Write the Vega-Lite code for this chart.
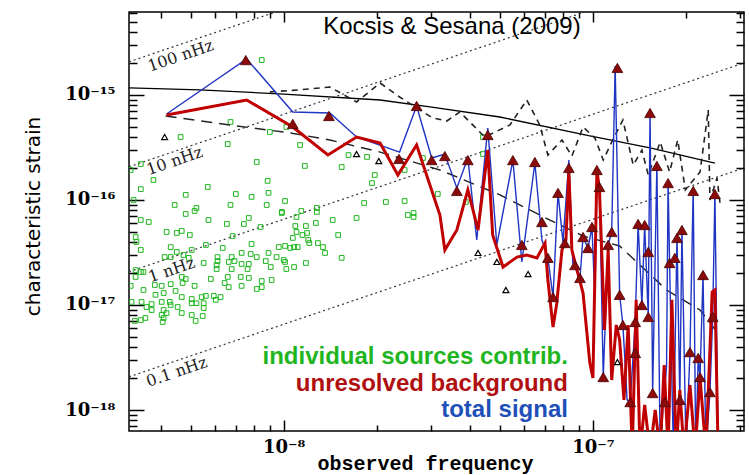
{
 "$schema": "https://vega.github.io/schema/vega-lite/v6.json",
 "width": 615, "height": 419,
 "autosize": {"type": "none"},
 "padding": {"left": 129, "top": 12, "right": 5, "bottom": 44},
 "background": "white",
 "config": {
  "view": {"stroke": "black", "strokeWidth": 1.5},
  "axis": {"domain": false, "grid": false, "tickColor": "black", "tickWidth": 1.5, "labelFont": "DejaVu Serif", "labelFontWeight": "bold", "labelFontSize": 18, "labelColor": "black", "labelOverlap": false, "labelFlush": false, "titleColor": "black"}
 },
 "datasets": {
  "nhz": [
   {"lab": "100", "f": 3.16e-9, "h": 2.07e-15}, {"lab": "100", "f": 3.08e-7, "h": 2.02e-13},
   {"lab": "10", "f": 3.16e-9, "h": 2.07e-16}, {"lab": "10", "f": 3.08e-7, "h": 2.02e-14},
   {"lab": "1", "f": 3.16e-9, "h": 2.07e-17}, {"lab": "1", "f": 3.08e-7, "h": 2.02e-15},
   {"lab": "0.1", "f": 3.16e-9, "h": 2.07e-18}, {"lab": "0.1", "f": 3.08e-7, "h": 2.02e-16}
  ],
  "nhzlab": [
   {"t": "100 nHz", "f": 4.64e-9, "h": 2.35e-15},
   {"t": "10 nHz", "f": 4.44e-9, "h": 2.35e-16},
   {"t": "1 nHz", "f": 4.34e-9, "h": 2.15e-17},
   {"t": "0.1 nHz", "f": 4.51e-9, "h": 2.30e-18}
  ],
  "green": [
   {"f":8.49e-9,"h":2.15e-15},{"f":6.73e-9,"h":5.53e-16},{"f":4.64e-9,"h":3.98e-16},{"f":6.59e-9,"h":3.41e-16},{"f":9.02e-9,"h":4.44e-16},{"f":1.02e-8,"h":4.96e-16},{"f":8.18e-9,"h":2.30e-16},{"f":3.45e-9,"h":2.20e-16},{"f":3.79e-9,"h":1.55e-16},{"f":8.87e-9,"h":1.52e-16},{"f":5.68e-9,"h":1.33e-16},{"f":3.45e-9,"h":1.27e-16},{"f":3.20e-9,"h":1.93e-16},{"f":4.82e-9,"h":1.12e-16},{"f":7.00e-9,"h":1.14e-16},{"f":7.87e-9,"h":1.07e-16},{"f":8.93e-9,"h":1.17e-16},{"f":1.01e-8,"h":9.78e-17},{"f":3.27e-9,"h":1.00e-16},{"f":4.44e-9,"h":8.96e-17},{"f":6.73e-9,"h":8.96e-17},{"f":8.81e-9,"h":8.96e-17},{"f":5.22e-9,"h":8.39e-17},{"f":5.15e-9,"h":7.86e-17},{"f":4.82e-9,"h":7.36e-17},{"f":9.86e-9,"h":7.69e-17},{"f":7.71e-9,"h":6.74e-17},{"f":3.45e-9,"h":6.45e-17},{"f":3.66e-9,"h":6.17e-17},{"f":5.71e-9,"h":6.45e-17},{"f":6.55e-9,"h":5.91e-17},{"f":7.43e-9,"h":5.91e-17},{"f":8.42e-9,"h":5.53e-17},{"f":4.18e-9,"h":4.96e-17},{"f":4.51e-9,"h":4.85e-17},{"f":4.68e-9,"h":5.07e-17},{"f":4.97e-9,"h":4.64e-17},{"f":6.84e-9,"h":4.54e-17},{"f":3.32e-9,"h":4.44e-17},{"f":3.34e-9,"h":3.98e-17},{"f":4.31e-9,"h":3.56e-17},{"f":5.60e-9,"h":3.73e-17},{"f":7.87e-9,"h":3.81e-17},{"f":9.64e-9,"h":3.56e-17},{"f":1.01e-8,"h":3.65e-17},{"f":3.45e-9,"h":3.34e-17},{"f":4.51e-9,"h":3.20e-17},{"f":5.04e-9,"h":3.34e-17},{"f":6.35e-9,"h":3.49e-17},{"f":7.31e-9,"h":3.13e-17},{"f":8.93e-9,"h":3.13e-17},{"f":4.74e-9,"h":2.99e-17},{"f":4.31e-9,"h":2.86e-17},{"f":4.93e-9,"h":2.81e-17},{"f":6.11e-9,"h":2.86e-17},{"f":6.79e-9,"h":2.86e-17},{"f":7.82e-9,"h":3.06e-17},{"f":8.18e-9,"h":2.86e-17},{"f":9.48e-9,"h":2.86e-17},{"f":4.12e-9,"h":2.86e-17},{"f":5.51e-9,"h":2.51e-17},{"f":6.11e-9,"h":2.62e-17},{"f":6.64e-9,"h":2.57e-17},{"f":6.93e-9,"h":2.62e-17},{"f":7.31e-9,"h":2.46e-17},{"f":7.71e-9,"h":2.46e-17},{"f":8.75e-9,"h":2.62e-17},{"f":1.00e-8,"h":2.68e-17},{"f":6.07e-9,"h":2.40e-17},{"f":9.08e-9,"h":2.30e-17},{"f":1.01e-8,"h":2.57e-17},{"f":6.07e-9,"h":2.20e-17},{"f":6.79e-9,"h":2.20e-17},{"f":7.64e-9,"h":2.20e-17},{"f":3.32e-9,"h":2.15e-17},{"f":3.45e-9,"h":2.06e-17},{"f":3.52e-9,"h":2.06e-17},{"f":3.32e-9,"h":1.85e-17},{"f":4.68e-9,"h":1.85e-17},{"f":5.81e-9,"h":1.77e-17},{"f":6.59e-9,"h":1.85e-17},{"f":7.26e-9,"h":1.85e-17},{"f":7.71e-9,"h":1.81e-17},{"f":4.82e-9,"h":1.77e-17},{"f":8.49e-9,"h":1.69e-17},{"f":9.14e-9,"h":1.73e-17},{"f":3.20e-9,"h":1.52e-17},{"f":3.83e-9,"h":1.55e-17},{"f":4.03e-9,"h":1.52e-17},{"f":4.31e-9,"h":1.58e-17},{"f":4.71e-9,"h":1.62e-17},{"f":5.15e-9,"h":1.52e-17},{"f":6.44e-9,"h":1.62e-17},{"f":6.64e-9,"h":1.48e-17},{"f":7.31e-9,"h":1.52e-17},{"f":8.18e-9,"h":1.42e-17},{"f":8.49e-9,"h":1.48e-17},{"f":3.52e-9,"h":1.39e-17},{"f":4.47e-9,"h":1.36e-17},{"f":3.85e-9,"h":1.25e-17},{"f":4.09e-9,"h":1.30e-17},{"f":4.68e-9,"h":1.19e-17},{"f":5.04e-9,"h":1.14e-17},{"f":5.43e-9,"h":1.19e-17},{"f":5.60e-9,"h":1.22e-17},{"f":5.94e-9,"h":1.22e-17},{"f":6.03e-9,"h":1.12e-17},{"f":6.25e-9,"h":1.19e-17},{"f":3.22e-9,"h":1.07e-17},{"f":3.47e-9,"h":1.07e-17},{"f":3.74e-9,"h":1.02e-17},{"f":4.03e-9,"h":1.07e-17},{"f":4.31e-9,"h":1.00e-17},{"f":4.54e-9,"h":9.57e-18},{"f":5.04e-9,"h":1.04e-17},{"f":5.22e-9,"h":1.04e-17},{"f":5.51e-9,"h":1.04e-17},{"f":5.51e-9,"h":9.36e-18},{"f":3.60e-9,"h":9.57e-18},{"f":4.09e-9,"h":8.96e-18},{"f":4.68e-9,"h":8.39e-18},{"f":4.03e-9,"h":8.03e-18},{"f":4.18e-9,"h":8.39e-18},{"f":5.04e-9,"h":8.03e-18},{"f":5.47e-9,"h":7.86e-18},{"f":3.57e-9,"h":7.52e-18},{"f":4.09e-9,"h":7.52e-18},{"f":4.06e-9,"h":6.89e-18},{"f":3.45e-9,"h":7.19e-18},{"f":5.19e-9,"h":7.05e-18},{"f":3.30e-9,"h":7.05e-18},{"f":3.74e-9,"h":8.96e-18},{"f":4.28e-9,"h":1.07e-17},{"f":1.10e-8,"h":4.96e-17},{"f":1.15e-8,"h":4.64e-17},{"f":1.19e-8,"h":4.85e-17},{"f":1.50e-8,"h":4.64e-17},{"f":1.07e-8,"h":4.35e-17},{"f":1.20e-8,"h":4.16e-17},{"f":1.21e-8,"h":3.89e-17},{"f":1.29e-8,"h":3.89e-17},{"f":1.05e-8,"h":3.49e-17},{"f":1.08e-8,"h":3.56e-17},{"f":1.11e-8,"h":3.56e-17},{"f":1.34e-8,"h":3.56e-17},{"f":1.36e-8,"h":3.13e-17},{"f":1.18e-8,"h":2.51e-17},{"f":1.54e-8,"h":2.81e-17},{"f":1.08e-8,"h":2.30e-17},{"f":1.02e-8,"h":2.20e-17},{"f":1.13e-8,"h":3.34e-16},{"f":1.17e-8,"h":2.11e-16},{"f":1.54e-8,"h":2.06e-16},{"f":1.62e-8,"h":2.68e-16},{"f":1.86e-8,"h":2.57e-16},{"f":2.82e-8,"h":2.51e-16},{"f":3.15e-8,"h":1.14e-16},{"f":2.46e-8,"h":1.93e-16},{"f":1.97e-8,"h":1.73e-16},{"f":1.93e-8,"h":1.45e-16},{"f":1.14e-8,"h":7.86e-17},{"f":1.28e-8,"h":8.39e-17},{"f":1.28e-8,"h":7.69e-17},{"f":9.86e-9,"h":7.52e-17},{"f":1.10e-8,"h":6.89e-17},{"f":1.27e-8,"h":6.04e-17},{"f":1.44e-8,"h":6.45e-17},{"f":1.72e-8,"h":6.74e-17},{"f":1.82e-8,"h":9.36e-17},{"f":2.14e-8,"h":9.57e-17},{"f":2.46e-8,"h":9.78e-17},{"f":2.52e-8,"h":7.19e-17},{"f":2.63e-8,"h":7.52e-17},{"f":2.63e-8,"h":6.89e-17},{"f":1.09e-8,"h":5.65e-17},{"f":1.18e-8,"h":5.65e-17},{"f":4.41e-8,"h":2.74e-16},{"f":3.88e-8,"h":9.57e-17},{"f":4.41e-8,"h":3.98e-16}
  ],
  "solid": [
   {"f":3.16e-9,"h":1.17e-15},{"f":5.35e-9,"h":1.12e-15},{"f":1.0e-8,"h":1.02e-15},{"f":2.05e-8,"h":8.96e-16},{"f":2.97e-8,"h":7.69e-16},{"f":5.00e-8,"h":6.17e-16},{"f":9.77e-8,"h":4.07e-16},{"f":1.53e-7,"h":3.13e-16},{"f":2.48e-7,"h":2.25e-16}
  ],
  "smooth": [
   {"f":4.15e-9,"h":6.31e-16},{"f":6.68e-9,"h":5.18e-16},{"f":1.05e-8,"h":4.35e-16},{"f":1.41e-8,"h":3.73e-16},{"f":2.05e-8,"h":2.86e-16},{"f":3.20e-8,"h":1.93e-16},{"f":5.00e-8,"h":1.12e-16},{"f":6.73e-8,"h":7.19e-17},{"f":9.29e-8,"h":4.54e-17},{"f":1.22e-7,"h":3.65e-17},{"f":1.42e-7,"h":2.40e-17},{"f":1.73e-7,"h":1.39e-17},{"f":2.22e-7,"h":8.96e-18},{"f":2.52e-7,"h":5.53e-18}
  ],
  "jagged": [
   {"f":9.02e-9,"h":1.07e-15},{"f":1.13e-8,"h":1.12e-15},{"f":1.41e-8,"h":1.19e-15},{"f":1.72e-8,"h":8.58e-16},{"f":2.05e-8,"h":1.30e-15},{"f":2.37e-8,"h":9.57e-16},{"f":3.03e-8,"h":6.04e-16},{"f":3.37e-8,"h":5.65e-16},{"f":3.71e-8,"h":6.89e-16},{"f":4.47e-8,"h":3.98e-16},{"f":5.39e-8,"h":5.18e-16},{"f":6.11e-8,"h":8.96e-16},{"f":6.73e-8,"h":5.18e-16},{"f":7.15e-8,"h":2.68e-16},{"f":7.94e-8,"h":3.73e-16},{"f":8.55e-8,"h":2.62e-16},{"f":9.29e-8,"h":4.96e-16},{"f":1.015e-7,"h":3.89e-16},{"f":1.08e-7,"h":2.40e-16},{"f":1.15e-7,"h":3.56e-16},{"f":1.25e-7,"h":5.78e-16},{"f":1.35e-7,"h":2.15e-16},{"f":1.44e-7,"h":2.99e-16},{"f":1.51e-7,"h":1.73e-16},{"f":1.65e-7,"h":3.56e-16},{"f":1.77e-7,"h":1.85e-16},{"f":1.88e-7,"h":3.73e-16},{"f":1.99e-7,"h":1.25e-16},{"f":2.22e-7,"h":1.85e-16},{"f":2.36e-7,"h":7.19e-16},{"f":2.39e-7,"h":1.00e-16},{"f":2.52e-7,"h":1.62e-16},{"f":2.58e-7,"h":8.96e-17}
  ],
  "blue": [
   {"f":4.18e-9,"h":6.59e-16},{"f":7.59e-9,"h":2.20e-15},{"f":1.07e-8,"h":6.89e-16},{"f":1.41e-8,"h":6.74e-16},{"f":1.72e-8,"h":3.98e-16},{"f":2.37e-8,"h":2.86e-16},{"f":2.69e-8,"h":7.86e-16},{"f":3.01e-8,"h":2.51e-16},{"f":3.32e-8,"h":2.74e-16},{"f":3.63e-8,"h":1.30e-16},{"f":3.94e-8,"h":2.51e-16},{"f":4.21e-8,"h":4.16e-17},{"f":4.57e-8,"h":4.85e-16},{"f":4.89e-8,"h":3.73e-17},{"f":5.51e-8,"h":2.40e-16},{"f":5.89e-8,"h":2.57e-17},{"f":6.49e-8,"h":2.25e-16},{"f":6.84e-8,"h":4.16e-17},{"f":7.15e-8,"h":2.81e-17},{"f":7.43e-8,"h":1.19e-17},{"f":7.71e-8,"h":1.17e-16},{"f":8.00e-8,"h":3.98e-17},{"f":8.36e-8,"h":2.40e-16},{"f":8.61e-8,"h":2.51e-17},{"f":9.08e-8,"h":1.81e-17},{"f":9.29e-8,"h":4.44e-17},{"f":9.64e-8,"h":3.49e-17},{"f":9.93e-8,"h":5.53e-17},{"f":1.015e-7,"h":1.12e-17},{"f":1.03e-7,"h":2.02e-16},{"f":1.05e-7,"h":1.33e-16},{"f":1.08e-7,"h":2.06e-18},{"f":1.12e-7,"h":3.73e-17},{"f":1.15e-7,"h":4.96e-17},{"f":1.18e-7,"h":1.89e-15},{"f":1.22e-7,"h":1.25e-17},{"f":1.25e-7,"h":6.45e-18},{"f":1.29e-7,"h":1.25e-18},{"f":1.32e-7,"h":1.19e-18},{"f":1.37e-7,"h":6.89e-18},{"f":1.40e-7,"h":5.91e-17},{"f":1.44e-7,"h":1.00e-17},{"f":1.47e-7,"h":5.78e-17},{"f":1.51e-7,"h":7.69e-18},{"f":1.53e-7,"h":7.05e-16},{"f":1.56e-7,"h":1.45e-18},{"f":1.61e-7,"h":2.20e-16},{"f":1.65e-7,"h":4e-19},{"f":1.69e-7,"h":1.19e-18},{"f":1.73e-7,"h":2.57e-18},{"f":1.75e-7,"h":1.52e-16},{"f":1.77e-7,"h":2.51e-17},{"f":1.82e-7,"h":4e-19},{"f":1.87e-7,"h":4.54e-17},{"f":1.91e-7,"h":1.25e-18},{"f":1.94e-7,"h":5.18e-17},{"f":2.00e-7,"h":4e-19},{"f":2.06e-7,"h":3.56e-18},{"f":2.11e-7,"h":1.27e-16},{"f":2.15e-7,"h":4e-19},{"f":2.19e-7,"h":3.13e-18},{"f":2.22e-7,"h":2.06e-18},{"f":2.27e-7,"h":1.93e-17},{"f":2.32e-7,"h":4e-19},{"f":2.39e-7,"h":1.48e-18},{"f":2.44e-7,"h":7.69e-18},{"f":2.48e-7,"h":1.19e-16},{"f":2.54e-7,"h":4e-19}
  ],
  "red": [
   {"f":4.18e-9,"h":6.45e-16},{"f":7.59e-9,"h":8.96e-16},{"f":1.07e-8,"h":4.96e-16},{"f":1.39e-8,"h":2.68e-16},{"f":1.72e-8,"h":3.98e-16},{"f":2.05e-8,"h":3.49e-16},{"f":2.34e-8,"h":1.73e-16},{"f":2.69e-8,"h":3.34e-16},{"f":3.20e-8,"h":7.19e-17},{"f":3.32e-8,"h":3.34e-17},{"f":3.63e-8,"h":5.18e-17},{"f":3.94e-8,"h":1.25e-16},{"f":4.25e-8,"h":5.18e-17},{"f":4.57e-8,"h":2.99e-16},{"f":4.74e-8,"h":4.64e-17},{"f":5.12e-8,"h":2.30e-17},{"f":5.68e-8,"h":2.86e-17},{"f":6.11e-8,"h":2.99e-17},{"f":6.59e-8,"h":2.81e-17},{"f":7.00e-8,"h":3.89e-17},{"f":7.15e-8,"h":1.73e-17},{"f":7.43e-8,"h":6.17e-18},{"f":7.64e-8,"h":1.04e-17},{"f":7.94e-8,"h":3.34e-17},{"f":8.18e-8,"h":4.16e-17},{"f":8.36e-8,"h":1.85e-16},{"f":8.55e-8,"h":3.34e-17},{"f":8.93e-8,"h":2.02e-17},{"f":9.29e-8,"h":1.30e-17},{"f":9.77e-8,"h":2.81e-18},{"f":1.00e-7,"h":2.02e-18},{"f":1.03e-7,"h":1.93e-16},{"f":1.05e-7,"h":1.25e-16},{"f":1.09e-7,"h":5.78e-18},{"f":1.12e-7,"h":3.34e-17},{"f":1.15e-7,"h":1.93e-18},{"f":1.19e-7,"h":6.45e-18},{"f":1.22e-7,"h":4.64e-18},{"f":1.26e-7,"h":1.25e-18},{"f":1.30e-7,"h":6.45e-18},{"f":1.34e-7,"h":4e-19},{"f":1.38e-7,"h":1.12e-17},{"f":1.42e-7,"h":4e-19},{"f":1.47e-7,"h":1.12e-18},{"f":1.53e-7,"h":4e-19},{"f":1.59e-7,"h":1.00e-18},{"f":1.65e-7,"h":4e-19},{"f":1.70e-7,"h":2.68e-18},{"f":1.75e-7,"h":4e-19},{"f":1.80e-7,"h":1.12e-17},{"f":1.86e-7,"h":4e-19},{"f":1.91e-7,"h":1.55e-18},{"f":1.97e-7,"h":4e-19},{"f":2.06e-7,"h":1.73e-18},{"f":2.14e-7,"h":4e-19},{"f":2.22e-7,"h":2.02e-18},{"f":2.32e-7,"h":4e-19},{"f":2.43e-7,"h":1.33e-17},{"f":2.48e-7,"h":1.39e-17},{"f":2.54e-7,"h":4e-19}
  ],
  "tri": [
   {"f":7.54e-9,"h":2.15e-15},{"f":1.07e-8,"h":5.30e-16},{"f":1.40e-8,"h":6.31e-16},{"f":2.36e-8,"h":2.46e-16},{"f":2.69e-8,"h":7.86e-16},{"f":3.01e-8,"h":2.40e-16},{"f":3.32e-8,"h":2.62e-16},{"f":3.63e-8,"h":1.22e-16},{"f":3.94e-8,"h":2.40e-16},{"f":4.57e-8,"h":4.16e-16},{"f":5.51e-8,"h":2.40e-16},{"f":5.89e-8,"h":3.73e-17},{"f":6.49e-8,"h":2.30e-16},{"f":6.84e-8,"h":6.17e-17},{"f":7.15e-8,"h":2.81e-17},{"f":7.43e-8,"h":1.19e-17},{"f":7.71e-8,"h":1.17e-16},{"f":8.11e-8,"h":3.89e-17},{"f":8.36e-8,"h":2.02e-16},{"f":8.75e-8,"h":2.40e-17},{"f":9.08e-8,"h":1.81e-17},{"f":9.29e-8,"h":4.44e-17},{"f":9.64e-8,"h":3.49e-17},{"f":9.93e-8,"h":5.53e-17},{"f":1.03e-7,"h":1.93e-16},{"f":1.05e-7,"h":1.33e-16},{"f":1.08e-7,"h":2.06e-18},{"f":1.12e-7,"h":3.73e-17},{"f":1.15e-7,"h":4.96e-17},{"f":1.20e-7,"h":1.81e-15},{"f":1.22e-7,"h":1.25e-17},{"f":1.25e-7,"h":6.45e-18},{"f":1.32e-7,"h":1.19e-18},{"f":1.37e-7,"h":6.89e-18},{"f":1.37e-7,"h":3.49e-18},{"f":1.40e-7,"h":5.91e-17},{"f":1.44e-7,"h":1.00e-17},{"f":1.47e-7,"h":5.78e-17},{"f":1.51e-7,"h":3.20e-17},{"f":1.51e-7,"h":7.69e-18},{"f":1.53e-7,"h":6.74e-16},{"f":1.56e-7,"h":1.45e-18},{"f":1.61e-7,"h":2.11e-16},{"f":1.71e-7,"h":1.19e-18},{"f":1.75e-7,"h":1.45e-16},{"f":1.77e-7,"h":2.51e-17},{"f":1.84e-7,"h":2.81e-17},{"f":1.87e-7,"h":4.35e-17},{"f":1.91e-7,"h":1.25e-18},{"f":1.94e-7,"h":5.18e-17},{"f":2.06e-7,"h":3.56e-18},{"f":2.11e-7,"h":1.22e-16},{"f":2.19e-7,"h":3.13e-18},{"f":2.22e-7,"h":2.06e-18},{"f":2.27e-7,"h":1.93e-17},{"f":2.39e-7,"h":1.48e-18},{"f":2.44e-7,"h":7.69e-18},{"f":2.48e-7,"h":1.14e-16}
  ],
  "otri": [
   {"f":4.12e-9,"h":3.98e-16},{"f":1.72e-8,"h":2.74e-16},{"f":2.03e-8,"h":2.35e-16},{"f":4.25e-8,"h":3.13e-17},{"f":4.89e-8,"h":2.57e-17},{"f":6.17e-8,"h":1.97e-17},{"f":5.23e-8,"h":1.39e-17},{"f":1.20e-7,"h":2.86e-18}
  ],
  "notes": [
   {"t": "individual sources contrib.", "c": "#1fb51f", "f": 8.30e-8, "h": 3.20e-18},
   {"t": "unresolved background", "c": "#b01010", "f": 8.30e-8, "h": 1.77e-18},
   {"t": "total signal", "c": "#1f4fb8", "f": 8.30e-8, "h": 1.00e-18}
  ],
  "title": [{"t": "Kocsis & Sesana (2009)", "f": 3.50e-8, "h": 4.44e-15}]
 },
 "encoding": {
  "x": {"field": "f", "type": "quantitative", "scale": {"type": "log", "domain": [3.16e-9, 3.08e-7], "nice": false}, "axis": null},
  "y": {"field": "h", "type": "quantitative", "scale": {"type": "log", "domain": [6.31e-19, 6.17e-15], "nice": false}, "axis": null}
 },
 "resolve": {"axis": {"x": "independent", "y": "independent"}},
 "layer": [
  {
   "data": {"name": "nhz"},
   "mark": {"type": "line", "color": "#333333", "strokeWidth": 1.2, "strokeDash": [2, 3], "clip": true},
   "encoding": {
    "detail": {"field": "lab"},
    "x": {"field": "f", "type": "quantitative", "scale": {"type": "log", "domain": [3.16e-9, 3.08e-7], "nice": false},
      "axis": {"orient": "bottom", "values": [4e-9,5e-9,6e-9,7e-9,8e-9,9e-9,1e-8,2e-8,3e-8,4e-8,5e-8,6e-8,7e-8,8e-8,9e-8,1e-7,2e-7,3e-7],
        "tickSize": {"condition": {"test": "abs(log(datum.value)/LN10-round(log(datum.value)/LN10))<0.001", "value": -11}, "value": -6},
        "labelPadding": 18,
        "labelExpr": "abs(log(datum.value)/LN10+8)<0.001 ? '10⁻⁸' : abs(log(datum.value)/LN10+7)<0.001 ? '10⁻⁷' : ''",
        "title": "observed frequency", "titleFont": "Liberation Mono", "titleFontSize": 20, "titleFontWeight": "bold",
        "titleX": 296, "titleY": 32, "titleBaseline": "middle", "titleAlign": "center"}},
    "y": {"field": "h", "type": "quantitative", "scale": {"type": "log", "domain": [6.31e-19, 6.17e-15], "nice": false},
      "axis": {"orient": "left", "values": [7e-19,8e-19,9e-19,1e-18,2e-18,3e-18,4e-18,5e-18,6e-18,7e-18,8e-18,9e-18,1e-17,2e-17,3e-17,4e-17,5e-17,6e-17,7e-17,8e-17,9e-17,1e-16,2e-16,3e-16,4e-16,5e-16,6e-16,7e-16,8e-16,9e-16,1e-15,2e-15,3e-15,4e-15,5e-15,6e-15],
        "tickSize": {"condition": {"test": "abs(log(datum.value)/LN10-round(log(datum.value)/LN10))<0.001", "value": -15}, "value": -8},
        "labelPadding": 29,
        "labelExpr": "abs(log(datum.value)/LN10-round(log(datum.value)/LN10))>0.001 ? '' : round(log(datum.value)/LN10)==-15 ? '10⁻¹⁵' : round(log(datum.value)/LN10)==-16 ? '10⁻¹⁶' : round(log(datum.value)/LN10)==-17 ? '10⁻¹⁷' : '10⁻¹⁸'",
        "title": "characteristic strain", "titleFont": "DejaVu Sans", "titleFontSize": 20, "titleFontWeight": "normal",
        "titleX": -96, "titleY": 204, "titleAngle": 270, "titleBaseline": "middle", "titleAlign": "center"}}
   }
  },
  {
   "data": {"name": "green"},
   "mark": {"type": "point", "shape": "square", "filled": false, "size": 22, "color": "#1fb51f", "strokeWidth": 1, "opacity": 1, "clip": true},
   "encoding": {
    "x": {"field": "f", "type": "quantitative", "scale": {"type": "log", "domain": [3.16e-9, 3.08e-7], "nice": false},
      "axis": {"orient": "top", "values": [4e-9,5e-9,6e-9,7e-9,8e-9,9e-9,1e-8,2e-8,3e-8,4e-8,5e-8,6e-8,7e-8,8e-8,9e-8,1e-7,2e-7,3e-7],
        "tickSize": {"condition": {"test": "abs(log(datum.value)/LN10-round(log(datum.value)/LN10))<0.001", "value": -10}, "value": -6},
        "labels": false, "title": null}},
    "y": {"field": "h", "type": "quantitative", "scale": {"type": "log", "domain": [6.31e-19, 6.17e-15], "nice": false},
      "axis": {"orient": "right", "values": [7e-19,8e-19,9e-19,1e-18,2e-18,3e-18,4e-18,5e-18,6e-18,7e-18,8e-18,9e-18,1e-17,2e-17,3e-17,4e-17,5e-17,6e-17,7e-17,8e-17,9e-17,1e-16,2e-16,3e-16,4e-16,5e-16,6e-16,7e-16,8e-16,9e-16,1e-15,2e-15,3e-15,4e-15,5e-15,6e-15],
        "tickSize": {"condition": {"test": "abs(log(datum.value)/LN10-round(log(datum.value)/LN10))<0.001", "value": -15}, "value": -8},
        "labels": false, "title": null}}
   }
  },
  {"data": {"name": "solid"}, "mark": {"type": "line", "color": "black", "strokeWidth": 1.3, "clip": true}, "encoding": {}},
  {"data": {"name": "smooth"}, "mark": {"type": "line", "color": "#222222", "strokeWidth": 1.4, "strokeDash": [11, 7], "clip": true}, "encoding": {}},
  {"data": {"name": "jagged"}, "mark": {"type": "line", "color": "#222222", "strokeWidth": 1.6, "strokeDash": [6, 5], "clip": true}, "encoding": {}},
  {"data": {"name": "blue"}, "mark": {"type": "line", "color": "#1f35c4", "strokeWidth": 1.4, "clip": true}, "encoding": {}},
  {"data": {"name": "red"}, "mark": {"type": "line", "color": "#c00000", "strokeWidth": 3, "clip": true}, "encoding": {}},
  {"data": {"name": "tri"}, "mark": {"type": "point", "shape": "triangle-up", "filled": true, "size": 115, "color": "#8b0a0a", "stroke": "#4a0000", "strokeWidth": 0.8, "opacity": 1, "clip": true}, "encoding": {}},
  {"data": {"name": "otri"}, "mark": {"type": "point", "shape": "triangle-up", "filled": false, "size": 35, "color": "black", "strokeWidth": 1.2, "opacity": 1, "clip": true}, "encoding": {}},
  {"data": {"name": "nhzlab"}, "mark": {"type": "text", "font": "DejaVu Serif", "fontSize": 16, "angle": 341, "color": "#222222", "align": "center", "baseline": "middle"}, "encoding": {"text": {"field": "t"}}},
  {"data": {"name": "title"}, "mark": {"type": "text", "font": "Liberation Sans", "fontSize": 24, "color": "black", "align": "center", "baseline": "middle"}, "encoding": {"text": {"field": "t"}}},
  {"data": {"name": "notes"}, "mark": {"type": "text", "font": "Liberation Sans", "fontWeight": "bold", "fontSize": 24, "align": "right", "baseline": "middle"}, "encoding": {"text": {"field": "t"}, "color": {"field": "c", "type": "nominal", "scale": null}}}
 ]
}
